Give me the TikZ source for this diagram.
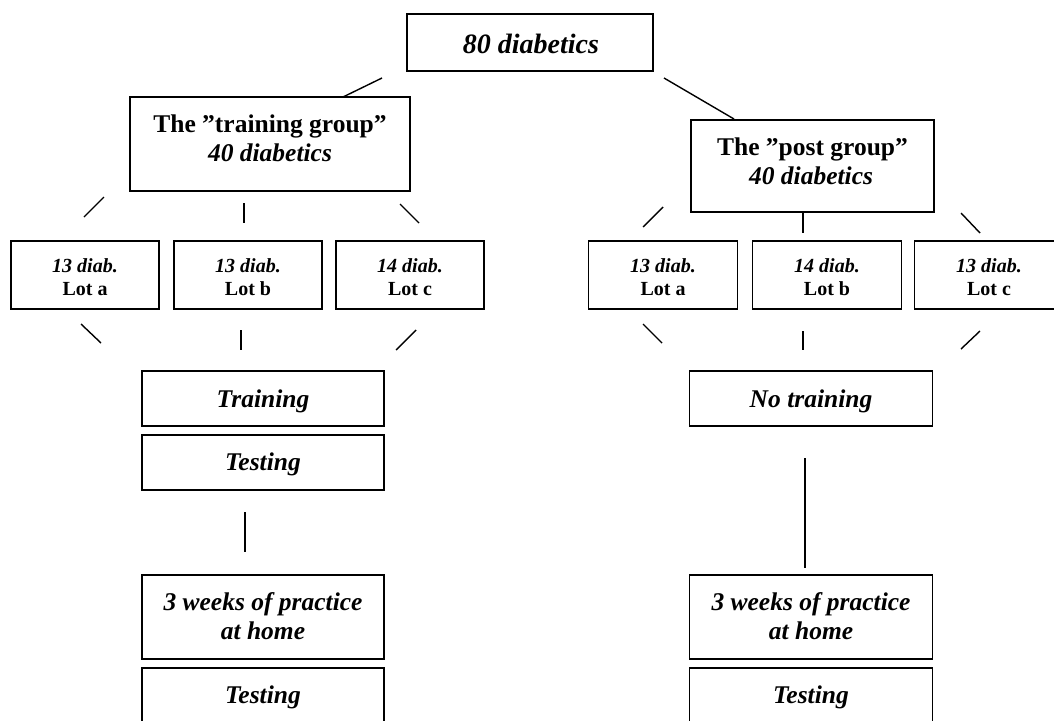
\documentclass[tikz,border=0pt]{standalone}
\usepackage{fontspec}
\setmainfont{Liberation Serif}
\begin{document}
\begin{tikzpicture}[x=1pt,y=-1pt]
\tikzset{
 box/.style={draw, line width=1.8pt, rectangle, inner sep=0pt},
 conn/.style={line width=1.4pt},
 big/.style={font=\fontsize{28}{34}\selectfont\bfseries\itshape},
 mid/.style={font=\fontsize{25.5}{30}\selectfont\bfseries},
 midi/.style={font=\fontsize{25.5}{30}\selectfont\bfseries\itshape},
 sml/.style={font=\fontsize{20}{24}\selectfont\bfseries},
 smli/.style={font=\fontsize{20}{24}\selectfont\bfseries\itshape},
 txt/.style={anchor=base, inner sep=0pt},
}
\useasboundingbox (0,0) rectangle (1054,720);
\clip (0,0) rectangle (1054,720);

% top
\node[box, minimum width=246pt, minimum height=57pt] (top) at (530,42.5) {};
\node[txt, big] (topt) at (531,53) {80 diabetics};

% groups
\node[box, minimum width=280pt, minimum height=94pt] (tg) at (270,144) {};
\node[txt, mid] (tg1) at (270,132) {The ”training group”};
\node[txt, midi] (tg2) at (270,161.5) {40 diabetics};

\node[box, minimum width=243pt, minimum height=92pt] (pg) at (812.5,166) {};
\node[txt, mid] (pg1) at (812.5,155) {The ”post group”};
\node[txt, midi] (pg2) at (811,184) {40 diabetics};

% lots left
\node[box, minimum width=148pt, minimum height=68pt] (la) at (85,275) {};
\node[txt, smli] (la1) at (85,272) {13 diab.};
\node[txt, sml] (la2) at (85,295) {Lot a};
\node[box, minimum width=148pt, minimum height=68pt] (lb) at (248,275) {};
\node[txt, smli] (lb1) at (248,272) {13 diab.};
\node[txt, sml] (lb2) at (248,295) {Lot b};
\node[box, minimum width=148pt, minimum height=68pt] (lc) at (410,275) {};
\node[txt, smli] (lc1) at (410,272) {14 diab.};
\node[txt, sml] (lc2) at (410,295) {Lot c};

% lots right
\node[box, minimum width=149pt, minimum height=68pt] (ra) at (663,275) {};
\node[txt, smli] (ra1) at (663,272) {13 diab.};
\node[txt, sml] (ra2) at (663,295) {Lot a};
\node[box, minimum width=149pt, minimum height=68pt] (rb) at (827,275) {};
\node[txt, smli] (rb1) at (827,272) {14 diab.};
\node[txt, sml] (rb2) at (827,295) {Lot b};
\node[box, minimum width=149pt, minimum height=68pt] (rc) at (989,275) {};
\node[txt, smli] (rc1) at (989,272) {13 diab.};
\node[txt, sml] (rc2) at (989,295) {Lot c};

% left column
\node[box, minimum width=242pt, minimum height=55pt] (train) at (263,398.5) {};
\node[txt, midi] (traint) at (263,407) {Training};
\node[box, minimum width=242pt, minimum height=55pt] (testa) at (263,462.5) {};
\node[txt, midi] (testat) at (263,470) {Testing};
\node[box, minimum width=242pt, minimum height=84pt] (weeksl) at (263,617) {};
\node[txt, midi] (weeksl1) at (263,610) {3 weeks of practice};
\node[txt, midi] (weeksl2) at (263,639) {at home};
\node[box, minimum width=242pt, minimum height=55pt] (testb) at (263,695.5) {};
\node[txt, midi] (testbt) at (263,703) {Testing};

% right column
\node[box, minimum width=243pt, minimum height=55pt] (notrain) at (811,398.5) {};
\node[txt, midi] (notraint) at (811,407) {No training};
\node[box, minimum width=243pt, minimum height=84pt] (weeksr) at (811,617) {};
\node[txt, midi] (weeksr1) at (811,610) {3 weeks of practice};
\node[txt, midi] (weeksr2) at (811,639) {at home};
\node[box, minimum width=243pt, minimum height=55pt] (testr) at (811,695.5) {};
\node[txt, midi] (testrt) at (811,703) {Testing};

% connector end points
\coordinate (c1a) at (382,78);  \coordinate (c1b) at (343,97);
\coordinate (c2a) at (664,78);  \coordinate (c2b) at (734,119);
\coordinate (g1a) at (104,197); \coordinate (g1b) at (84,217);
\coordinate (g2a) at (244,203); \coordinate (g2b) at (244,223);
\coordinate (g3a) at (400,204); \coordinate (g3b) at (419,223);
\coordinate (p1a) at (663,207); \coordinate (p1b) at (643,227);
\coordinate (p2a) at (803,213); \coordinate (p2b) at (803,233);
\coordinate (p3a) at (961,213); \coordinate (p3b) at (980,233);
\coordinate (l1a) at (81,324);  \coordinate (l1b) at (101,343);
\coordinate (l2a) at (241,330); \coordinate (l2b) at (241,350);
\coordinate (l3a) at (416,330); \coordinate (l3b) at (396,350);
\coordinate (r1a) at (643,324); \coordinate (r1b) at (662,343);
\coordinate (r2a) at (803,331); \coordinate (r2b) at (803,350);
\coordinate (r3a) at (980,331); \coordinate (r3b) at (961,349);
\coordinate (t1a) at (245,512); \coordinate (t1b) at (245,552);
\coordinate (t2a) at (805,458); \coordinate (t2b) at (805,568);

\foreach \n in {c1,c2,g1,g2,g3,p1,p2,p3,l1,l2,l3,r1,r2,r3,t1,t2}
  \draw[conn] (\n a) -- (\n b);
\end{tikzpicture}
\end{document}
